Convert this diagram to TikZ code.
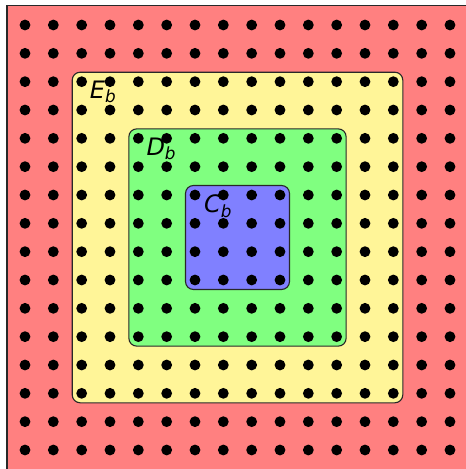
\documentclass[tikz,border=0pt]{standalone}
\usepackage{fontspec}
\setmainfont{DejaVu Sans}
\usepackage{tikz}
\usetikzlibrary{positioning,calc}
\definecolor{outerRed}{RGB}{255,128,128}
\definecolor{paleYellow}{RGB}{255,245,152}
\definecolor{paleGreen}{RGB}{128,255,128}
\definecolor{paleBlue}{RGB}{128,128,255}
\definecolor{edge}{RGB}{40,40,40}
\tikzset{
  region/.style={rectangle, rounded corners=8pt, draw=edge, line width=1.1pt,
                 inner sep=0pt},
  gridpt/.style={circle, fill=black, inner sep=0pt, minimum size=10.8pt},
  setlabel/.style={anchor=base west, inner sep=0pt,
                   font=\fontsize{24}{28}\selectfont\itshape}
}
\begin{document}
\begin{tikzpicture}[x=1pt, y=-1pt]
\clip (0,0) rectangle (466,469);
\fill[white] (0,0) rectangle (466,469);
% outer set
\draw[fill=outerRed, draw=edge, line width=1.8pt] (7,5.5) rectangle (490,490);
\coordinate (mid) at (237.5,237.5);
% nested sets
\node[region, fill=paleYellow, minimum size=330.6pt] (setE) at (mid) {};
\node[region, fill=paleGreen, minimum size=217.3pt] (setD) at (mid) {};
\node[region, fill=paleBlue, minimum size=104pt] (setC) at (mid) {};
% lattice points
\foreach \i in {0,...,15}
  \foreach \j in {0,...,15}
    \node[gridpt] (p\i-\j) at ({25+28.333*\i},{25+28.333*\j}) {};
% labels
\node[setlabel] (labE) at ($(setE.north west)+(18,27)$) {E\textsubscript{b}};
\node[setlabel] (labD) at ($(setD.north west)+(18,27)$) {D\textsubscript{b}};
\node[setlabel] (labC) at ($(setC.north west)+(19,28)$) {C\textsubscript{b}};
\end{tikzpicture}
\end{document}
